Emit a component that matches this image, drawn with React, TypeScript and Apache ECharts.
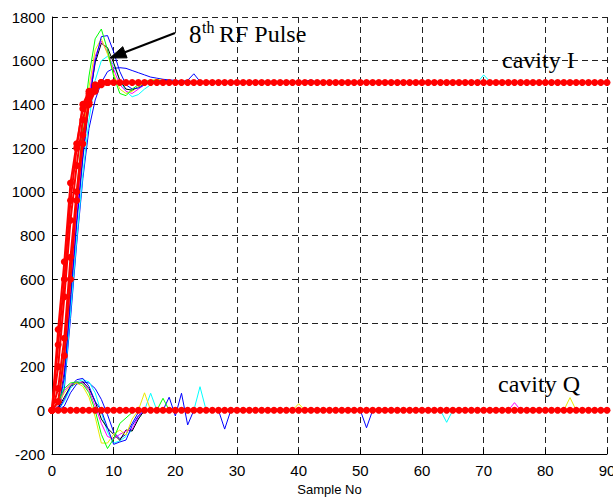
import React, { useEffect, useRef } from "react";
import * as echarts from "echarts";

const xMin = 0;
const xMax = 90;
const xStep = 10;
const yMin = -200;
const yMax = 1800;
const yStep = 200;
const xName = "Sample No";

// cavity I, red pulses (every sample, with markers)
const redI = [
  0, 370, 680, 1040, 1220, 1380, 1450, 1490, 1500, 1500,
  1500, 1500, 1500, 1500, 1500, 1500, 1500, 1500, 1500, 1500,
  1500, 1500, 1500, 1500, 1500, 1500, 1500, 1500, 1500, 1500,
  1500, 1500, 1500, 1500, 1500, 1500, 1500, 1500, 1500, 1500,
  1500, 1500, 1500, 1500, 1500, 1500, 1500, 1500, 1500, 1500,
  1500, 1500, 1500, 1500, 1500, 1500, 1500, 1500, 1500, 1500,
  1500, 1500, 1500, 1500, 1500, 1500, 1500, 1500, 1500, 1500,
  1500, 1500, 1500, 1500, 1500, 1500, 1500, 1500, 1500, 1500,
  1500, 1500, 1500, 1500, 1500, 1500, 1500, 1500, 1500, 1500,
  1500,
];
const redI2 = [[0, 0], [1, 200], [2, 520], [3, 870], [4, 1120], [5, 1330], [6, 1440], [7, 1485], [8, 1500], [9, 1500]];
const redI3 = [[0, 0], [1, 100], [2, 330], [3, 700], [4, 1000], [5, 1260], [6, 1410], [7, 1470], [8, 1495], [9, 1500]];
const redI4 = [[0, 0], [1, 40], [2, 250], [3, 600], [4, 960], [5, 1220], [6, 1400], [7, 1460], [8, 1490], [9, 1500]];
const redI5 = [[0, 0], [1, 300], [2, 600], [3, 960], [4, 1200], [5, 1400], [6, 1460], [7, 1480], [8, 1500]];

// cavity Q, red pulses
const redQ = [
  0, 0, 0, 0, 0, 0, 0, 0, 0, 0,
  0, 0, 0, 0, 0, 0, 0, 0, 0, 0,
  0, 0, 0, 0, 0, 0, 0, 0, 0, 0,
  0, 0, 0, 0, 0, 0, 0, 0, 0, 0,
  0, 0, 0, 0, 0, 0, 0, 0, 0, 0,
  0, 0, 0, 0, 0, 0, 0, 0, 0, 0,
  0, 0, 0, 0, 0, 0, 0, 0, 0, 0,
  0, 0, 0, 0, 0, 0, 0, 0, 0, 0,
  0, 0, 0, 0, 0, 0, 0, 0, 0, 0,
  0,
];

// cavity I, other pulses ([sample, value])
const greenI = [[0, 0], [1, 20], [2, 280], [3, 650], [4, 1000], [5, 1300], [6, 1530], [7, 1700], [8, 1745], [9, 1650], [10, 1530], [11, 1450], [12, 1440], [13, 1470], [14, 1490], [15, 1505], [16, 1510], [18, 1505], [20, 1500], [90, 1500]];
const yellowI = [[0, 0], [1, 15], [2, 230], [3, 600], [4, 950], [5, 1250], [6, 1480], [7, 1650], [8, 1700], [9, 1630], [10, 1540], [11, 1470], [12, 1450], [13, 1460], [14, 1480], [15, 1500], [16, 1510], [17, 1515], [19, 1505], [21, 1500], [90, 1500]];
const magentaI = [[0, 0], [1, 10], [2, 200], [3, 560], [4, 900], [5, 1200], [6, 1440], [7, 1620], [8, 1690], [9, 1640], [10, 1560], [11, 1490], [12, 1460], [13, 1450], [14, 1470], [15, 1490], [16, 1505], [18, 1510], [20, 1500], [90, 1500]];
const blackI = [[0, 0], [1, 5], [2, 180], [3, 530], [4, 870], [5, 1170], [6, 1410], [7, 1590], [8, 1680], [9, 1660], [10, 1590], [11, 1510], [12, 1470], [13, 1465], [14, 1480], [15, 1495], [16, 1505], [18, 1505], [20, 1500], [90, 1500]];
const blueI = [[0, 0], [1, 0], [2, 150], [3, 500], [4, 850], [5, 1150], [6, 1400], [7, 1600], [8, 1710], [9, 1715], [10, 1640], [11, 1550], [12, 1490], [13, 1470], [14, 1475], [15, 1490], [16, 1500], [18, 1510], [20, 1505], [41, 1505], [42, 1512], [43, 1500], [83, 1500], [84, 1510], [85, 1500], [90, 1500]];
const cyanI = [[0, 0], [1, 0], [2, 120], [3, 450], [4, 780], [5, 1080], [6, 1330], [7, 1510], [8, 1600], [9, 1620], [10, 1580], [11, 1510], [12, 1460], [13, 1435], [14, 1445], [15, 1470], [16, 1490], [17, 1505], [19, 1510], [21, 1500], [69, 1500], [70, 1535], [71, 1505], [90, 1500]];
const blue2I = [[0, 0], [1, 0], [2, 100], [3, 420], [4, 760], [5, 1060], [6, 1290], [7, 1420], [8, 1500], [9, 1550], [10, 1565], [11, 1568], [12, 1565], [13, 1555], [14, 1545], [15, 1535], [16, 1525], [17, 1520], [18, 1515], [19, 1512], [20, 1510], [21, 1505], [22, 1510], [23, 1540], [24, 1505], [60, 1505], [90, 1500]];

// cavity Q, other pulses ([sample, value])
const greenQ = [[0, 0], [1, 40], [2, 100], [3, 125], [4, 130], [5, 120], [6, 80], [7, 0], [8, -110], [9, -175], [10, -130], [11, -60], [12, -35], [13, -10], [14, 0], [17, 0], [18, 55], [19, 0], [90, 0]];
const yellowQ = [[0, 0], [1, 30], [2, 80], [3, 115], [4, 125], [5, 110], [6, 60], [7, -30], [8, -150], [9, -150], [10, -110], [11, -90], [12, -113], [13, -40], [14, 0], [15, 80], [16, 0], [39, 0], [40, 30], [41, 0], [83, 0], [84, 58], [85, 0], [90, 0]];
const magentaQ = [[0, 0], [1, 20], [2, 90], [3, 120], [4, 130], [5, 125], [6, 90], [7, 20], [8, -60], [9, -120], [10, -130], [11, -110], [12, -95], [13, -87], [14, -30], [15, 0], [74, 0], [75, 35], [76, 0], [90, 0]];
const blackQ = [[0, 0], [1, 10], [2, 60], [3, 110], [4, 125], [5, 130], [6, 100], [7, 40], [8, -40], [9, -82], [10, -110], [11, -137], [12, -90], [13, -95], [14, -40], [15, 0], [90, 0]];
const blueQ = [[0, 0], [1, 0], [2, 50], [3, 110], [4, 140], [5, 146], [6, 110], [7, 40], [8, 0], [9, -80], [10, -156], [11, -145], [12, -136], [13, -70], [14, -25], [15, 0], [18, 0], [19, 60], [20, -26], [21, 78], [22, -67], [23, 0], [27, 0], [28, -86], [29, 0], [50, 0], [51, -80], [52, 0], [90, 0]];
const cyanQ = [[0, 0], [1, 0], [2, 40], [3, 100], [4, 130], [5, 140], [6, 130], [7, 80], [8, -10], [9, -100], [10, -150], [11, -140], [12, -120], [13, -90], [14, -40], [15, 0], [16, 78], [17, 0], [23, 0], [24, 108], [25, 0], [63, 0], [64, -55], [65, 0], [90, 0]];
const blue2Q = [[0, 0], [1, 0], [2, 20], [3, 80], [4, 120], [5, 130], [6, 125], [7, 100], [8, 50], [9, -20], [10, -100], [11, -130], [12, -110], [13, -60], [14, -10], [15, 0], [90, 0]];

const BLUE = "#0000ff";
const GREEN = "#00ff00";
const CYAN = "#00ffff";
const MAGENTA = "#ff00ff";
const YELLOW = "#e8e800";
const BLACK = "#000000";
const RED = "#ff0000";

const thinLines: [number[][], string][] = [
  [blue2I, BLUE], [cyanI, CYAN], [blackI, BLACK], [magentaI, MAGENTA], [yellowI, YELLOW], [blueI, BLUE], [greenI, GREEN],
  [blue2Q, BLUE], [cyanQ, CYAN], [blackQ, BLACK], [magentaQ, MAGENTA], [yellowQ, YELLOW], [blueQ, BLUE], [greenQ, GREEN],
];

export default function App() {
  const ref = useRef<HTMLDivElement>(null);
  useEffect(() => {
    if (!ref.current) return;
    const chart = echarts.init(ref.current, undefined, { renderer: "svg" });
    const series: any[] = [];
    thinLines.forEach(([d, c]) => {
      series.push({
        type: "line",
        data: d,
        showSymbol: false,
        symbol: "none",
        lineStyle: { color: c, width: 1 },
        itemStyle: { color: c },
        z: 2,
      });
    });
    const redList: any[] = [
      redI.map((v, i) => [i, v]),
      redI2,
      redI3,
      redI4,
      redI5,
      redQ.map((v, i) => [i, v]),
    ];
    redList.forEach((d) => {
      series.push({
        type: "line",
        data: d,
        symbol: "circle",
        symbolSize: 7,
        showSymbol: true,
        lineStyle: { color: RED, width: 2 },
        itemStyle: { color: RED },
        z: 3,
      });
    });

    // arrow geometry
    const sx = 175, sy = 33, tx = 110, ty = 58;
    const dx = tx - sx, dy = ty - sy;
    const len = Math.sqrt(dx * dx + dy * dy);
    const ux = dx / len, uy = dy / len;
    const hl = 16, hw = 6;
    const bx = tx - ux * hl, by = ty - uy * hl;
    const px = -uy * hw, py = ux * hw;

    const serif = "'Liberation Serif', 'Times New Roman', serif";
    chart.setOption({
      animation: false,
      backgroundColor: "#ffffff",
      grid: { left: 52, right: 6, top: 17, bottom: 45, containLabel: false, outerBoundsMode: "none" },
      xAxis: {
        type: "value",
        min: xMin,
        max: xMax,
        interval: xStep,
        name: xName,
        nameLocation: "middle",
        nameGap: 29,
        nameTextStyle: { fontFamily: "'Liberation Sans', Arial, sans-serif", fontSize: 13, color: "#000" },
        axisLine: { show: true, onZero: false, lineStyle: { color: "#000", width: 1 } },
        axisTick: { show: true, inside: true, length: 5, lineStyle: { color: "#000" } },
        axisLabel: { fontFamily: "'Liberation Sans', Arial, sans-serif", fontSize: 15, color: "#000", margin: 9, formatter: (v: number) => String(v) },
        splitLine: { show: true, lineStyle: { color: "#222", type: [6, 4], width: 1 } },
      },
      yAxis: {
        type: "value",
        min: yMin,
        max: yMax,
        interval: yStep,
        axisLine: { show: true, onZero: false, lineStyle: { color: "#000", width: 1 } },
        axisTick: { show: true, inside: true, length: 5, lineStyle: { color: "#000" } },
        axisLabel: { fontFamily: "'Liberation Sans', Arial, sans-serif", fontSize: 15, color: "#000", margin: 7, formatter: (v: number) => String(v) },
        splitLine: { show: true, lineStyle: { color: "#222", type: [6, 4], width: 1 } },
      },
      series,
      graphic: [
        {
          type: "line",
          shape: { x1: sx, y1: sy, x2: bx, y2: by },
          style: { stroke: "#000", lineWidth: 2 },
          z: 100,
        },
        {
          type: "polygon",
          shape: { points: [[tx, ty], [bx + px, by + py], [bx - px, by - py]] },
          style: { fill: "#000", stroke: "#000" },
          z: 100,
        },
        {
          type: "text",
          x: 189, y: 34,
          style: { text: "8", fontFamily: serif, fontSize: 25, fill: "#000", verticalAlign: "middle", textVerticalAlign: "middle" },
          z: 100,
        },
        {
          type: "text",
          x: 202, y: 27,
          style: { text: "th", fontFamily: serif, fontSize: 16, fill: "#000", verticalAlign: "middle", textVerticalAlign: "middle" },
          z: 100,
        },
        {
          type: "text",
          x: 219, y: 34,
          style: { text: "RF Pulse", fontFamily: serif, fontSize: 24, fill: "#000", verticalAlign: "middle", textVerticalAlign: "middle" },
          z: 100,
        },
        {
          type: "text",
          x: 502, y: 59.5,
          style: { text: "cavity I", fontFamily: serif, fontSize: 24, fill: "#000", verticalAlign: "middle", textVerticalAlign: "middle" },
          z: 100,
        },
        {
          type: "text",
          x: 498, y: 384,
          style: { text: "cavity Q", fontFamily: serif, fontSize: 24, fill: "#000", verticalAlign: "middle", textVerticalAlign: "middle" },
          z: 100,
        },
      ],
    });
    return () => chart.dispose();
  }, []);
  return <div ref={ref} style={{ width: 613, height: 499, position: "absolute", left: 0, top: 0 }} />;
}
